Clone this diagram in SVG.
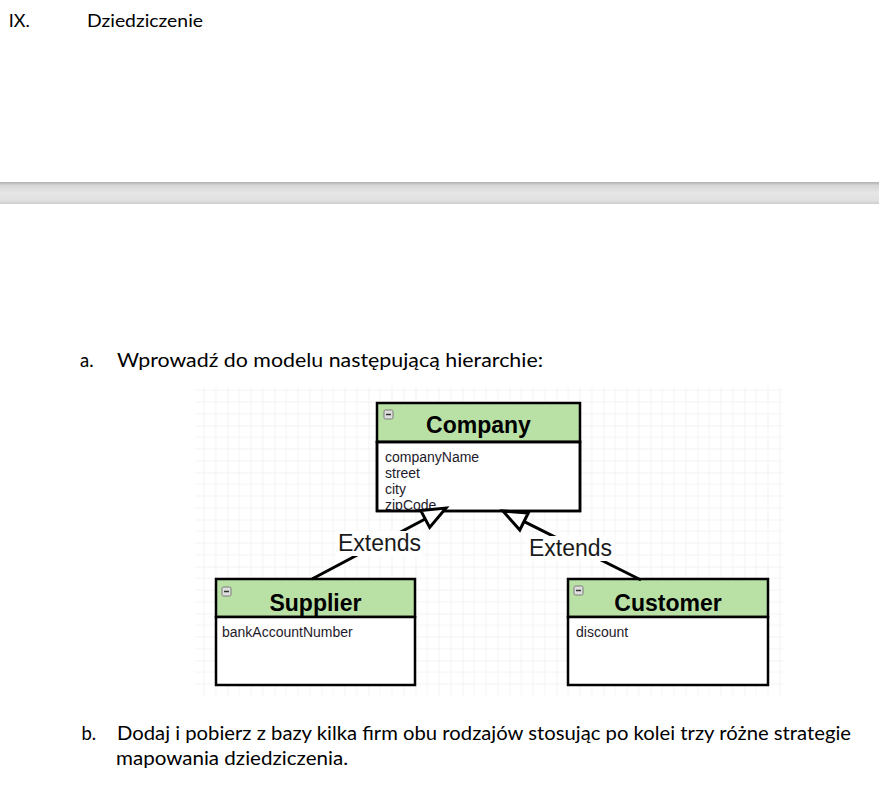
<svg xmlns="http://www.w3.org/2000/svg" xmlns:xlink="http://www.w3.org/1999/xlink" width="879" height="789" viewBox="0 0 879 789">
<style>
.doc{font-family:Lato,"Liberation Sans",sans-serif;fill:#000}
.uml{font-family:"Liberation Sans",Arial,sans-serif}
.title{font-size:23px;font-weight:bold;fill:#000;text-anchor:middle}
.attr{font-size:14px;fill:#1e1a2a}
.lbl{font-size:23px;fill:#1a1a1a}
.hdr{fill:#b9e0a5;stroke:#000;stroke-width:2.5}
.body{fill:#fff;stroke:#000;stroke-width:2.5}
.edge{fill:none;stroke:#000;stroke-width:3;marker-end:url(#ext)}
</style>
<defs>
<linearGradient id="bar" x1="0" y1="0" x2="0" y2="1">
<stop offset="0" stop-color="#b0b0b0"/>
<stop offset="0.15" stop-color="#d6d6d6"/>
<stop offset="0.5" stop-color="#e6e6e6"/>
<stop offset="0.85" stop-color="#e0e0e0"/>
<stop offset="1" stop-color="#cdcdcd"/>
</linearGradient>
<pattern id="grid" patternUnits="userSpaceOnUse" x="39.5" y="2.5" width="47" height="47">
<path d="M11.75 0V47M23.5 0V47M35.25 0V47M0 11.75H47M0 23.5H47M0 35.25H47" stroke="#f3f3f3" stroke-width="1"/>
<path d="M0 0V47M0 0H47" stroke="#e6e6e6" stroke-width="1"/>
</pattern>
<marker id="ext" markerUnits="userSpaceOnUse" markerWidth="30" markerHeight="24" refX="25" refY="10.5" orient="auto" overflow="visible">
<path d="M1.5 1 L25 10.5 L1.5 20 Z" fill="#fff" stroke="#000" stroke-width="3" stroke-linejoin="miter"/>
</marker>
<g id="mi">
<rect x="0" y="0" width="9" height="9" rx="1.5" fill="#dedede" stroke="#7a7a7a" stroke-width="1"/>
<path d="M2 4.5H7" stroke="#333" stroke-width="1.5"/>
</g>
<clipPath id="cbody"><rect x="377" y="442" width="203" height="69"/></clipPath>
</defs>

<rect x="0" y="0" width="879" height="789" fill="#fff"/>

<g id="header-text" class="doc">
<text x="8.7" y="26.5" font-size="16.5" textLength="21" lengthAdjust="spacingAndGlyphs">IX.</text>
<text x="87" y="26.5" font-size="16.5" textLength="116" lengthAdjust="spacingAndGlyphs">Dziedziczenie</text>
</g>

<rect id="separator" x="0" y="182" width="879" height="22" fill="url(#bar)"/>

<g id="item-a" class="doc">
<text x="80" y="366.5" font-size="18.5">a.</text>
<text x="117" y="366.5" font-size="18.5" textLength="426" lengthAdjust="spacingAndGlyphs">Wprowadź do modelu następującą hierarchie:</text>
</g>

<rect id="canvas" x="195" y="387" width="588" height="308" fill="url(#grid)"/>

<g id="company" class="uml">
<rect class="hdr" x="377" y="403" width="203" height="39"/>
<rect class="body" x="377" y="442" width="203" height="69"/>
<use xlink:href="#mi" x="384" y="410"/>
<text class="title" x="478.5" y="433">Company</text>
<g clip-path="url(#cbody)">
<text class="attr" x="385" y="462">companyName</text>
<text class="attr" x="385" y="478">street</text>
<text class="attr" x="385" y="494">city</text>
<text class="attr" x="385" y="510">zipCode</text>
</g>
<rect x="377" y="442" width="203" height="69" fill="none" stroke="#000" stroke-width="2.5"/>
</g>

<g id="supplier" class="uml">
<rect class="hdr" x="216" y="579" width="199" height="38"/>
<rect class="body" x="216" y="617" width="199" height="68"/>
<use xlink:href="#mi" x="222" y="587"/>
<text class="title" x="315.5" y="611">Supplier</text>
<text class="attr" x="222" y="637">bankAccountNumber</text>
</g>

<g id="customer" class="uml">
<rect class="hdr" x="568" y="579" width="200" height="38"/>
<rect class="body" x="568" y="617" width="200" height="68"/>
<use xlink:href="#mi" x="574" y="586"/>
<text class="title" x="668" y="611">Customer</text>
<text class="attr" x="576" y="637">discount</text>
</g>

<g id="connectors" class="uml">
<path class="edge" d="M312 579 L446 508"/>
<rect x="336" y="531" width="87" height="25" fill="#fff"/>
<text class="lbl" x="338" y="550.5">Extends</text>
<path class="edge" d="M641 580 L503 511"/>
<rect x="527" y="536" width="87" height="25" fill="#fff"/>
<text class="lbl" x="529" y="555.5">Extends</text>
</g>

<g id="item-b" class="doc">
<text x="81.5" y="740" font-size="18.5">b.</text>
<text x="117" y="740" font-size="18.5" textLength="734" lengthAdjust="spacingAndGlyphs">Dodaj i pobierz z bazy kilka firm obu rodzajów stosując po kolei trzy różne strategie</text>
<text x="116" y="765" font-size="18.5" textLength="232" lengthAdjust="spacingAndGlyphs">mapowania dziedziczenia.</text>
</g>
</svg>
